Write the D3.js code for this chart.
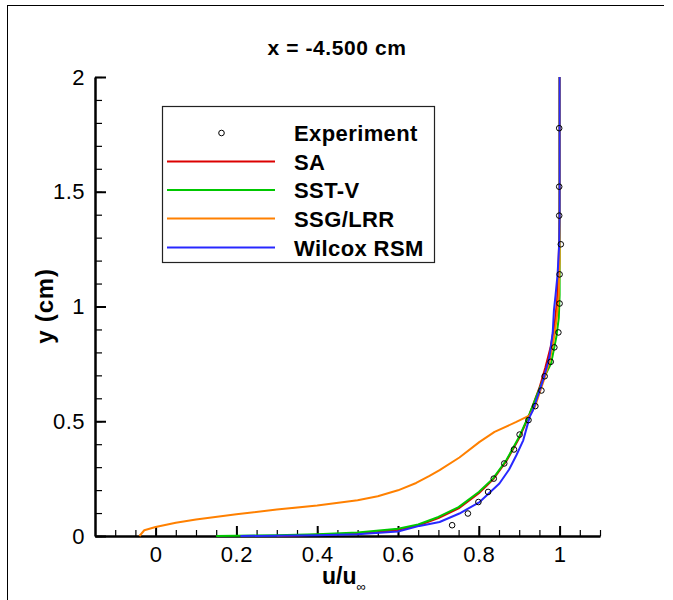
<!DOCTYPE html>
<html><head><meta charset="utf-8">
<script src="https://cdn.jsdelivr.net/npm/d3@7"></script>
<style>
body{margin:0;background:#fff;}
svg{display:block;font-family:"Liberation Sans",Arial,sans-serif;}
</style></head>
<body><svg id="c" width="673" height="600"></svg>
<script>
// ---- data ----
const title = "x = -4.500 cm";
const xMajorTicks = [0, 0.2, 0.4, 0.6, 0.8, 1];
const yMajorTicks = [0, 0.5, 1, 1.5, 2];
const seriesNames = ["SA", "SST-V", "SSG/LRR", "Wilcox RSM"];
const seriesColors = ["#dc0000", "#00c800", "#ff8000", "#2828ff"];

const experiment = [
  [0.734,0.047],[0.773,0.098],[0.799,0.148],[0.823,0.192],[0.837,0.250],
  [0.863,0.316],[0.887,0.377],[0.901,0.442],[0.923,0.505],[0.940,0.566],
  [0.955,0.634],[0.963,0.696],[0.978,0.759],[0.987,0.822],[0.997,0.887],
  [1.000,1.013],[1.000,1.140],[1.003,1.271],[0.999,1.396],[0.999,1.522],[0.999,1.777]
];
const sa = [
  [0.30,0.0],[0.40,0.005],[0.50,0.011],[0.55,0.017],[0.60,0.027],[0.65,0.046],[0.70,0.078],
  [0.75,0.120],[0.80,0.186],[0.835,0.246],[0.868,0.326],[0.90,0.427],[0.925,0.527],
  [0.95,0.645],[0.965,0.735],[0.978,0.825],[0.988,0.925],[0.994,1.03],[0.997,1.15],
  [0.999,1.30],[1.0,1.50],[1.0,2.0]
];
const sstv = [
  [0.15,0.0],[0.30,0.003],[0.40,0.008],[0.50,0.015],[0.60,0.032],[0.65,0.050],[0.70,0.083],
  [0.75,0.126],[0.80,0.192],[0.835,0.250],[0.868,0.330],[0.90,0.432],[0.926,0.534],
  [0.95,0.640],[0.96,0.685],[0.979,0.752],[0.992,0.868],[0.998,0.95],[1.0,1.05],[1.0,1.2],[1.0,2.0]
];
const ssglrr = [
  [-0.040,0.0],[-0.028,0.025],[0.0,0.039],[0.05,0.058],[0.10,0.072],[0.20,0.095],
  [0.30,0.115],[0.40,0.133],[0.50,0.156],[0.55,0.173],[0.60,0.199],[0.645,0.231],
  [0.678,0.262],[0.703,0.287],[0.752,0.342],[0.802,0.410],[0.839,0.454],[0.893,0.497],
  [0.926,0.526],[0.939,0.563],[0.95,0.621],[0.963,0.690],[0.975,0.760],[0.985,0.850],
  [0.993,0.950],[0.998,1.05],[1.0,1.20],[1.0,2.0]
];
const wilcox = [
  [0.21,0.0],[0.40,0.003],[0.50,0.008],[0.60,0.020],[0.653,0.044],[0.703,0.061],
  [0.752,0.098],[0.802,0.148],[0.851,0.229],[0.875,0.290],[0.893,0.352],[0.910,0.417],
  [0.926,0.519],[0.934,0.548],[0.959,0.679],[0.975,0.781],[0.983,0.887],[0.986,0.984],
  [0.990,1.05],[0.995,1.14],[0.999,1.27],[1.0,1.40],[1.0,2.0]
];
const seriesData = [sa, sstv, ssglrr, wilcox];

// ---- drawing ----
const svg = d3.select("#c");
const x = d3.scaleLinear().domain([-0.15, 1.1]).range([95, 600]);
const y = d3.scaleLinear().domain([0, 2]).range([536, 77]);

// frame
svg.append("line").attr("x1",7.5).attr("x2",7.5).attr("y1",5).attr("y2",600).attr("stroke","#000").attr("stroke-width",1);
svg.append("line").attr("x1",7).attr("x2",664).attr("y1",5.5).attr("y2",5.5).attr("stroke","#000").attr("stroke-width",1);

// title
svg.append("text").attr("x",337).attr("y",55).attr("text-anchor","middle")
  .attr("font-size",21).attr("font-weight","bold").attr("letter-spacing",0.6).text(title);

// minor ticks
const xMinor = d3.range(-0.1, 1.1001, 0.05).map(v => +v.toFixed(2));
const yMinor = d3.range(0, 2.0001, 0.1).map(v => +v.toFixed(2));

const gx = svg.append("g").attr("transform","translate(0,536)");
gx.call(d3.axisBottom(x).tickValues(xMinor).tickFormat("").tickSizeInner(-6).tickSizeOuter(0));
gx.call(g => g.selectAll(".tick line").attr("stroke-width",1.2));
const gx2 = svg.append("g").attr("transform","translate(0,536)");
gx2.call(d3.axisBottom(x).tickValues(xMajorTicks).tickFormat(d3.format("")).tickSizeInner(-10).tickSizeOuter(0).tickPadding(10));
gx2.select(".domain").attr("stroke-width",2.5);
gx2.selectAll(".tick line").attr("stroke-width",2);
gx2.selectAll("text").attr("font-size",22).attr("font-family","Liberation Sans, Arial, sans-serif").attr("fill","#000").attr("letter-spacing",0.5);

const gy = svg.append("g").attr("transform","translate(95,0)");
gy.call(d3.axisLeft(y).tickValues(yMinor).tickFormat("").tickSizeInner(-7).tickSizeOuter(0));
gy.call(g => g.selectAll(".tick line").attr("stroke-width",1.2));
const gy2 = svg.append("g").attr("transform","translate(95,0)");
gy2.call(d3.axisLeft(y).tickValues(yMajorTicks).tickFormat(d3.format("")).tickSizeInner(-11).tickSizeOuter(0).tickPadding(10));
gy2.select(".domain").attr("stroke-width",2.5);
gy2.selectAll(".tick line").attr("stroke-width",2);
gy2.selectAll("text").attr("font-size",22).attr("font-family","Liberation Sans, Arial, sans-serif").attr("fill","#000").attr("letter-spacing",0.5);

// axis titles
const xt = svg.append("text").attr("x",322).attr("y",584).attr("font-size",23).attr("font-weight","bold");
xt.append("tspan").text("u/u");
xt.append("tspan").attr("font-size",13).attr("dy",7).attr("font-weight","normal").text("\u221E");
svg.append("text").attr("transform","translate(53,306) rotate(-90)").attr("text-anchor","middle")
  .attr("font-size",24).attr("font-weight","bold").attr("letter-spacing",0.8).text("y (cm)");

// curves
const line = d3.line().x(d => x(d[0])).y(d => y(d[1]));
seriesData.forEach((s, i) => {
  svg.append("path").datum(s).attr("d", line).attr("fill","none")
    .attr("stroke", seriesColors[i]).attr("stroke-width",2).attr("stroke-linejoin","round");
});

// experiment symbols
svg.append("g").selectAll("circle").data(experiment).join("circle")
  .attr("cx", d => x(d[0])).attr("cy", d => y(d[1])).attr("r", 2.8)
  .attr("fill","none").attr("stroke","#000").attr("stroke-width",1);

// legend
const lg = svg.append("g");
lg.append("rect").attr("x",162.5).attr("y",106.5).attr("width",272).attr("height",156)
  .attr("fill","#fff").attr("stroke","#222").attr("stroke-width",1.2);
const rowsY = [133, 161.5, 190, 218.5, 247.5];
lg.append("circle").attr("cx",221.5).attr("cy",rowsY[0]).attr("r",2.8).attr("fill","none").attr("stroke","#000");
lg.append("text").attr("x",294).attr("y",rowsY[0]+8).attr("font-size",22).attr("font-weight","bold").attr("letter-spacing",0.4).text("Experiment");
seriesNames.forEach((n, i) => {
  const yy = rowsY[i+1];
  lg.append("line").attr("x1",167).attr("x2",275).attr("y1",yy).attr("y2",yy)
    .attr("stroke", seriesColors[i]).attr("stroke-width",2);
  lg.append("text").attr("x",294).attr("y",yy+8).attr("font-size",22).attr("font-weight","bold").attr("letter-spacing",0.4).text(n);
});
</script></body></html>
